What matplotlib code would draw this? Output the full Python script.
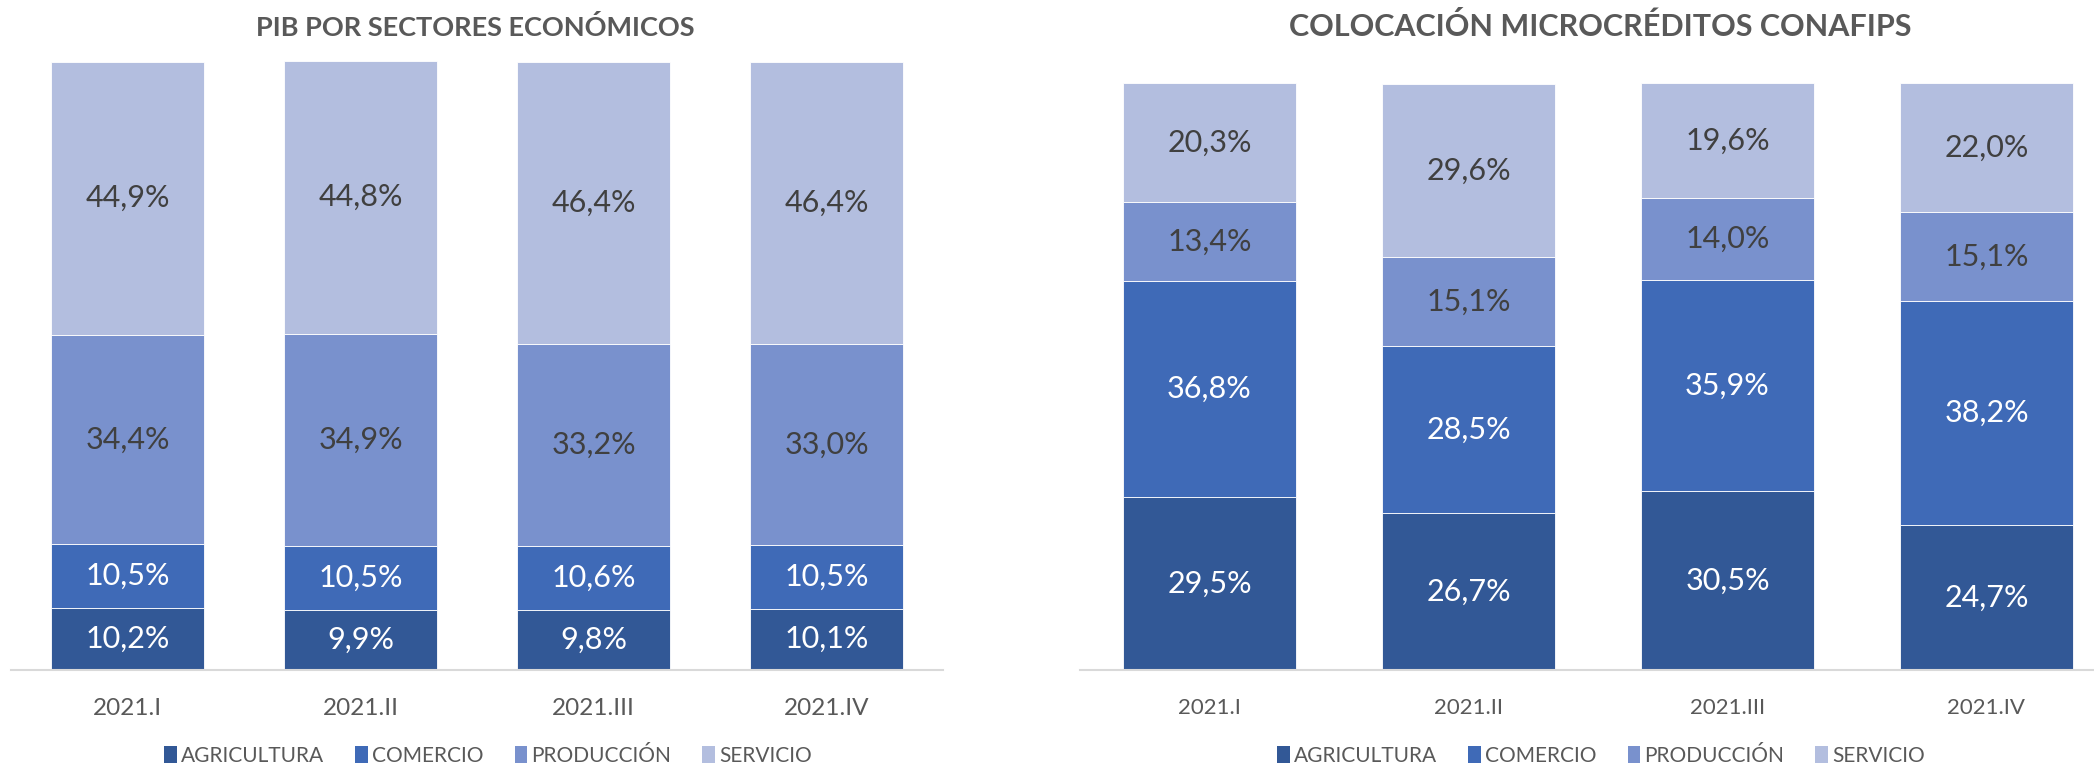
import matplotlib
matplotlib.use("Agg")
import matplotlib.pyplot as plt
import numpy as np
from matplotlib.patches import Patch

plt.rcParams['font.family'] = ['Lato', 'DejaVu Sans']

# data
quarters = ["2021.I", "2021.II", "2021.III", "2021.IV"]
sectors = ["AGRICULTURA", "COMERCIO", "PRODUCCIÓN", "SERVICIO"]

pib_agricultura = [10.2, 9.9, 9.8, 10.1]
pib_comercio = [10.5, 10.5, 10.6, 10.5]
pib_produccion = [34.4, 34.9, 33.2, 33.0]
pib_servicio = [44.9, 44.8, 46.4, 46.4]

micro_agricultura = [29.5, 26.7, 30.5, 24.7]
micro_comercio = [36.8, 28.5, 35.9, 38.2]
micro_produccion = [13.4, 15.1, 14.0, 15.1]
micro_servicio = [20.3, 29.6, 19.6, 22.0]

colors = ["#325896", "#3F6AB7", "#7991CD", "#B3BEDF"]
label_colors = ["white", "white", "#404040", "#404040"]
W, H = 2094, 767


def draw_stack(ax, series, width, tick_size, label_size):
    x = np.arange(len(quarters))
    bottom = np.zeros(len(quarters))
    for i, vals in enumerate(series):
        vals = np.array(vals)
        ax.bar(x, vals, width, bottom=bottom, color=colors[i],
               edgecolor="white", linewidth=0.6)
        for j in range(len(x)):
            ax.text(x[j], bottom[j] + vals[j] / 2, f"{vals[j]:.1f}%".replace(".", ","),
                    ha="center", va="center", fontsize=label_size, color=label_colors[i])
        bottom = bottom + vals
    ax.set_xticks(x)
    ax.set_xticklabels(quarters, fontsize=tick_size, color="#595959")
    ax.tick_params(axis="x", length=0, pad=20)
    ax.set_yticks([])
    for s in ["top", "right", "left"]:
        ax.spines[s].set_visible(False)
    ax.spines["bottom"].set_color("#D9D9D9")
    ax.spines["bottom"].set_linewidth(1.5)
    ax.set_xlim(-0.5, 3.5)


fig = plt.figure(figsize=(W / 100, H / 100), dpi=100)

# left chart
ax1 = fig.add_axes([11 / W, (H - 670) / H, 932 / W, 609 / H])
draw_stack(ax1, [pib_agricultura, pib_comercio, pib_produccion, pib_servicio],
           0.66, 17.5, 22)
ax1.set_ylim(0, 100.1)

# right chart (runs off the right edge like the original)
ax2 = fig.add_axes([1080 / W, (H - 670) / H, 1036 / W, 587 / H])
draw_stack(ax2, [micro_agricultura, micro_comercio, micro_produccion, micro_servicio],
           0.665, 16, 22)
ax2.set_ylim(0, 100)

fig.text(475 / W, 1 - 27 / H, "PIB POR SECTORES ECONÓMICOS", ha="center", va="center",
         fontsize=19.5, fontweight="bold", color="#595959")
fig.text(1600 / W, 1 - 27 / H, "COLOCACIÓN MICROCRÉDITOS CONAFIPS", ha="center", va="center",
         fontsize=22, fontweight="bold", color="#595959")

handles = [Patch(facecolor=c, edgecolor="none") for c in colors]
for cx in [488, 1601]:
    fig.legend(handles, sectors, loc="center", bbox_to_anchor=(cx / W, 1 - 756 / H),
               ncol=4, frameon=False, fontsize=15, handlelength=0.6, handleheight=0.9,
               handletextpad=0.2, columnspacing=1.5, labelcolor="#595959")

fig.savefig("out.png", dpi=100)
